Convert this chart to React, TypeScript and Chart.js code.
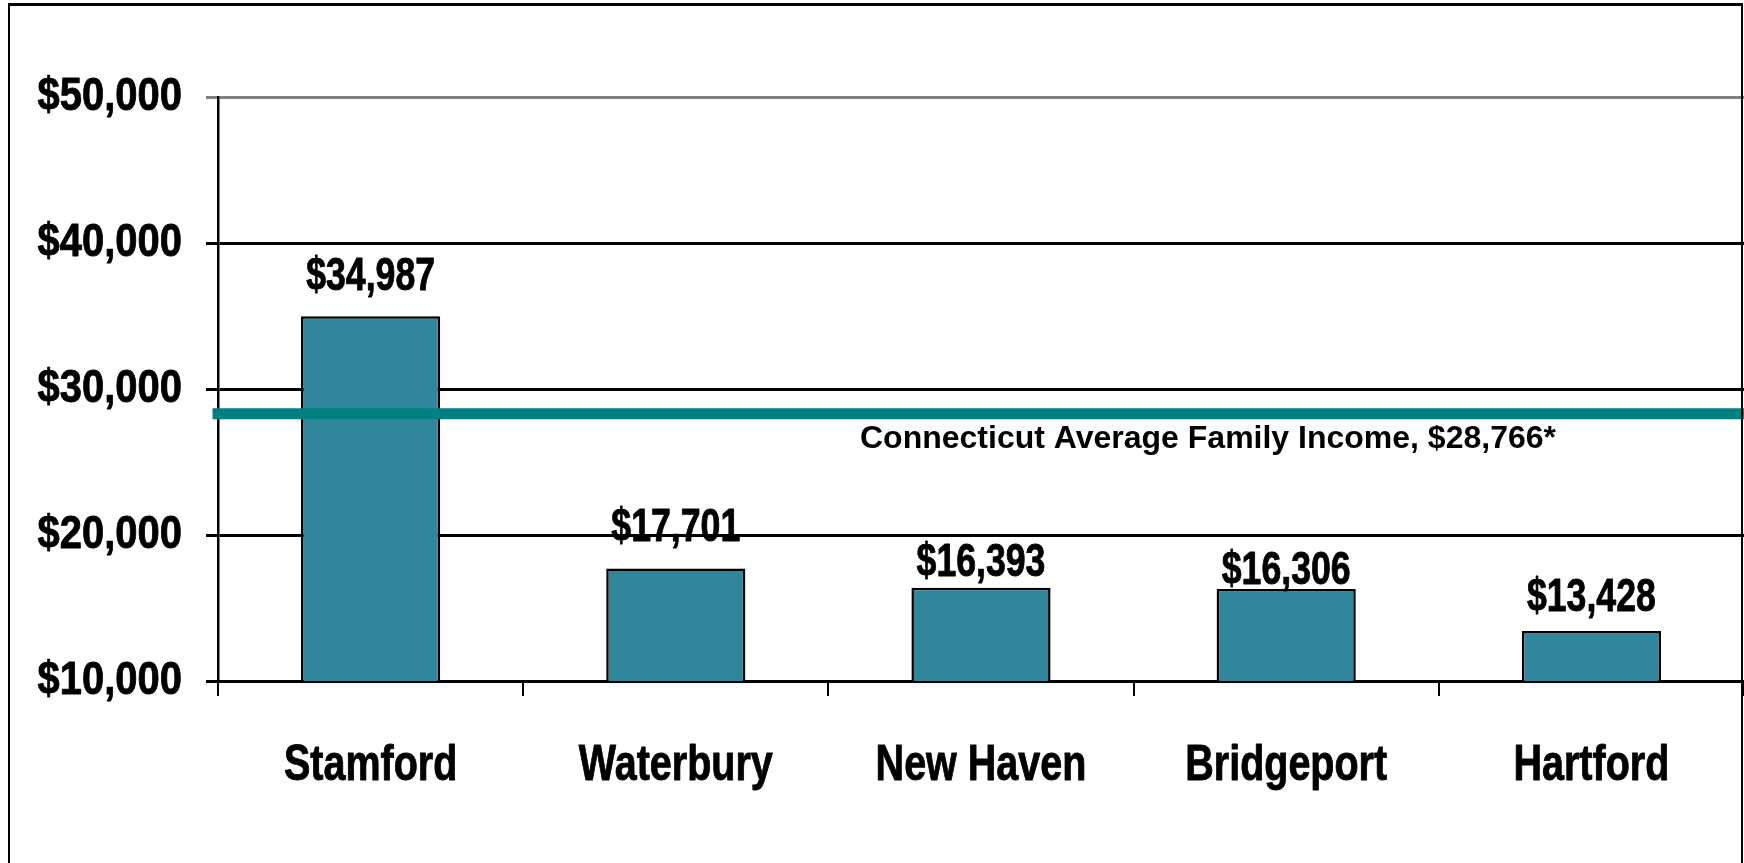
import React, { useEffect, useRef } from 'react';
import { Chart, registerables } from 'chart.js';

Chart.register(...registerables);

// ---- data ----
const categories = ['Stamford', 'Waterbury', 'New Haven', 'Bridgeport', 'Hartford'];
const incomes = [34987, 17701, 16393, 16306, 13428];
const valueLabels = ['$34,987', '$17,701', '$16,393', '$16,306', '$13,428'];
const averageIncome = 28300; // where the average line sits in the picture
const averageLabel = 'Connecticut Average Family Income, $28,766*';
const yTicks = [10000, 20000, 30000, 40000, 50000];
const yTickLabels = ['$10,000', '$20,000', '$30,000', '$40,000', '$50,000'];

// ---- style ----
const labelGaps = [26, 28, 12, 5, 20];
const FONT = "'Liberation Sans', Arial, sans-serif";
const BAR_COLOR = '#32869C';
const LINE_COLOR = '#008080';
// horizontal compression (imitates Arial Narrow) keyed by font size
const NARROW_BY_SIZE: Record<number, number> = { 47: 0.85, 50: 0.79, 46: 0.775 };

const narrowPlugin = {
  id: 'narrowText',
  beforeDraw(chart: any) {
    const ctx = chart.ctx;
    if (ctx.__origFill) return;
    const orig = ctx.fillText;
    ctx.__origFill = orig;
    ctx.fillText = function (text: string, x: number, y: number) {
      const m = /(\d+(?:\.\d+)?)px/.exec(this.font);
      const size = m ? Math.round(parseFloat(m[1])) : 0;
      const sx = NARROW_BY_SIZE[size];
      if (!sx) {
        orig.call(this, text, x, y);
        return;
      }
      this.save();
      this.translate(x, y);
      this.scale(sx, 1);
      orig.call(this, text, 0, 0);
      this.strokeStyle = this.fillStyle;
      this.lineWidth = 0.9;
      this.lineJoin = 'round';
      this.strokeText(text, 0, 0);
      this.restore();
    };
  },
  afterDraw(chart: any) {
    const ctx = chart.ctx;
    if (ctx.__origFill) {
      ctx.fillText = ctx.__origFill;
      delete ctx.__origFill;
    }
  },
};

const labelPlugin = {
  id: 'valueLabels',
  afterDatasetsDraw(chart: any) {
    const ctx = chart.ctx;
    const meta = chart.getDatasetMeta(1);
    ctx.save();
    ctx.fillStyle = '#000';
    ctx.font = `bold 46px ${FONT}`;
    ctx.textAlign = 'center';
    ctx.textBaseline = 'alphabetic';
    meta.data.forEach((bar: any, i: number) => {
      ctx.fillText(valueLabels[i], bar.x, bar.y - labelGaps[i]);
    });
    const y = chart.scales.y.getPixelForValue(averageIncome);
    ctx.font = `bold 32px ${FONT}`;
    ctx.textAlign = 'left';
    ctx.fillText(averageLabel, chart.chartArea.left + 642, y + 34);
    ctx.restore();
  },
};

export default function App() {
  const ref = useRef<HTMLCanvasElement | null>(null);

  useEffect(() => {
    if (!ref.current) return;
    const chart = new Chart(ref.current, {
      type: 'bar',
      data: {
        labels: categories,
        datasets: [
          {
            type: 'line',
            xAxisID: 'x2',
            data: [
              { x: 0, y: averageIncome },
              { x: 1, y: averageIncome },
            ],
            borderColor: LINE_COLOR,
            borderWidth: 11,
            borderCapStyle: 'square',
            pointRadius: 0,
            clip: false,
            order: 0,
          } as any,
          {
            type: 'bar',
            xAxisID: 'x',
            data: incomes,
            backgroundColor: BAR_COLOR,
            borderColor: '#000',
            borderWidth: 2.5,
            borderSkipped: false,
            grouped: false,
            categoryPercentage: 1,
            barPercentage: 0.456,
            order: 1,
          } as any,
        ],
      },
      options: {
        responsive: false,
        animation: false,
        layout: { padding: { top: 97, left: 0, right: 0, bottom: 0 } },
        plugins: { legend: { display: false }, tooltip: { enabled: false } },
        scales: {
          x: {
            type: 'category',
            offset: true,
            afterFit: (s: any) => {
              s.height = 182;
            },
            grid: {
              offset: true,
              drawOnChartArea: false,
              drawTicks: true,
              tickLength: 15,
              color: '#000',
              lineWidth: 2,
            },
            border: { display: true, color: '#000', width: 3 },
            ticks: {
              color: '#000',
              font: { family: FONT, size: 50, weight: 'bold' },
              padding: 40,
              maxRotation: 0,
              autoSkip: false,
            },
          },
          x2: {
            type: 'linear',
            display: false,
            offset: false,
            grid: { offset: false },
            min: 0,
            max: 1,
          },
          y: {
            type: 'linear',
            min: yTicks[0],
            max: yTicks[yTicks.length - 1],
            afterFit: (s: any) => {
              s.width = 218;
            },
            afterBuildTicks: (s: any) => {
              s.ticks = yTicks.map((v) => ({ value: v }));
            },
            grid: {
              color: (c: any) => (c.tick && c.tick.value === 50000 ? '#808080' : '#000'),
              lineWidth: 3,
              drawTicks: true,
              tickLength: 12,
            },
            border: { display: true, color: '#000', width: 2.5 },
            ticks: {
              color: '#000',
              font: { family: FONT, size: 47, weight: 'bold' },
              padding: 24,
              callback: (v: any) => {
                const i = yTicks.indexOf(Number(v));
                return i >= 0 ? yTickLabels[i] : '';
              },
            },
          },
        },
      },
      plugins: [narrowPlugin, labelPlugin],
    });
    return () => chart.destroy();
  }, []);

  return (
    <div
      style={{
        position: 'fixed',
        left: 0,
        top: 0,
        width: 1744,
        height: 863,
        background: '#fff',
        overflow: 'hidden',
      }}
    >
      <canvas ref={ref} width={1744} height={863} style={{ display: 'block' }} />
      <div
        style={{
          position: 'absolute',
          left: 8,
          top: 3,
          width: 1735,
          height: 900,
          boxSizing: 'border-box',
          borderTop: '3px solid #000',
          borderLeft: '2px solid #000',
          borderRight: '2px solid #000',
          pointerEvents: 'none',
        }}
      />
    </div>
  );
}
